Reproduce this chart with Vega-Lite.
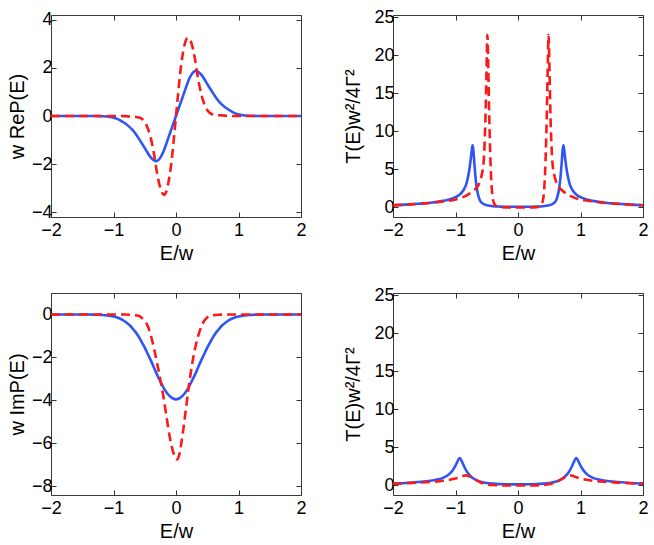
{
  "$schema": "https://vega.github.io/schema/vega-lite/v6.json",
  "padding": {"left": 6, "top": 7, "right": 5, "bottom": 5},
  "background": "white",
  "config": {
    "view": {"stroke": "#3a3a3a", "strokeWidth": 1},
    "font": "Liberation Sans",
    "axis": {
      "grid": false, "domain": false,
      "tickColor": "#333333", "tickSize": -5, "tickWidth": 1,
      "labelFont": "Liberation Sans", "labelFontSize": 18, "labelColor": "#000000", "labelPadding": 4,
      "labelFlush": false, "labelOverlap": false, "labelBound": false,
      "titleFont": "Liberation Sans", "titleFontSize": 20, "titleFontWeight": "normal", "titleColor": "#000000", "titlePadding": 2,
      "minExtent": 0
    },
    "axisX": {"labelPadding": 9, "titlePadding": 4}
  },
  "datasets": {
    "p1b": [{"E":-2,"v":0},{"E":-1.6,"v":0},{"E":-1.3,"v":0},{"E":-1.2,"v":-0.01},{"E":-1.1,"v":-0.02},{"E":-1.05,"v":-0.04},{"E":-1,"v":-0.07},{"E":-0.95,"v":-0.11},{"E":-0.9,"v":-0.17},{"E":-0.85,"v":-0.25},{"E":-0.8,"v":-0.33},{"E":-0.75,"v":-0.44},{"E":-0.7,"v":-0.57},{"E":-0.65,"v":-0.73},{"E":-0.6,"v":-0.92},{"E":-0.55,"v":-1.12},{"E":-0.5,"v":-1.33},{"E":-0.45,"v":-1.55},{"E":-0.4,"v":-1.73},{"E":-0.35,"v":-1.85},{"E":-0.32,"v":-1.88},{"E":-0.29,"v":-1.85},{"E":-0.25,"v":-1.73},{"E":-0.2,"v":-1.48},{"E":-0.15,"v":-1.12},{"E":-0.1,"v":-0.74},{"E":-0.05,"v":-0.37},{"E":0,"v":0},{"E":0.05,"v":0.37},{"E":0.1,"v":0.74},{"E":0.15,"v":1.12},{"E":0.2,"v":1.48},{"E":0.25,"v":1.73},{"E":0.29,"v":1.85},{"E":0.32,"v":1.88},{"E":0.35,"v":1.85},{"E":0.4,"v":1.73},{"E":0.45,"v":1.55},{"E":0.5,"v":1.33},{"E":0.55,"v":1.12},{"E":0.6,"v":0.92},{"E":0.65,"v":0.73},{"E":0.7,"v":0.57},{"E":0.75,"v":0.44},{"E":0.8,"v":0.33},{"E":0.85,"v":0.25},{"E":0.9,"v":0.17},{"E":0.95,"v":0.11},{"E":1,"v":0.07},{"E":1.05,"v":0.04},{"E":1.1,"v":0.02},{"E":1.2,"v":0.01},{"E":1.3,"v":0},{"E":1.6,"v":0},{"E":2,"v":0}],
    "p1r": [{"E":-2,"v":0},{"E":-1,"v":0},{"E":-0.85,"v":0},{"E":-0.8,"v":-0.01},{"E":-0.75,"v":-0.02},{"E":-0.7,"v":-0.03},{"E":-0.65,"v":-0.04},{"E":-0.6,"v":-0.06},{"E":-0.55,"v":-0.11},{"E":-0.5,"v":-0.25},{"E":-0.45,"v":-0.52},{"E":-0.4,"v":-0.95},{"E":-0.35,"v":-1.6},{"E":-0.3,"v":-2.42},{"E":-0.25,"v":-3.0},{"E":-0.21,"v":-3.24},{"E":-0.185,"v":-3.28},{"E":-0.16,"v":-3.18},{"E":-0.13,"v":-2.88},{"E":-0.1,"v":-2.45},{"E":-0.07,"v":-1.85},{"E":-0.04,"v":-1.1},{"E":0,"v":0},{"E":0.04,"v":1.1},{"E":0.07,"v":1.85},{"E":0.1,"v":2.45},{"E":0.13,"v":2.88},{"E":0.16,"v":3.16},{"E":0.19,"v":3.25},{"E":0.22,"v":3.2},{"E":0.25,"v":3.0},{"E":0.3,"v":2.42},{"E":0.35,"v":1.6},{"E":0.4,"v":0.95},{"E":0.45,"v":0.52},{"E":0.5,"v":0.25},{"E":0.55,"v":0.11},{"E":0.6,"v":0.06},{"E":0.65,"v":0.04},{"E":0.7,"v":0.03},{"E":0.75,"v":0.02},{"E":0.8,"v":0.01},{"E":0.85,"v":0},{"E":1,"v":0},{"E":2,"v":0}],
    "p2b": [{"E":-2,"v":0.3},{"E":-1.8,"v":0.38},{"E":-1.6,"v":0.49},{"E":-1.4,"v":0.63},{"E":-1.2,"v":0.87},{"E":-1.1,"v":1.05},{"E":-1,"v":1.35},{"E":-0.92,"v":1.8},{"E":-0.87,"v":2.3},{"E":-0.83,"v":3.0},{"E":-0.8,"v":4.0},{"E":-0.78,"v":4.9},{"E":-0.76,"v":6.1},{"E":-0.74,"v":7.5},{"E":-0.727,"v":8.17},{"E":-0.715,"v":7.6},{"E":-0.7,"v":6.0},{"E":-0.68,"v":4.0},{"E":-0.66,"v":2.6},{"E":-0.63,"v":1.4},{"E":-0.6,"v":0.8},{"E":-0.55,"v":0.45},{"E":-0.5,"v":0.3},{"E":-0.45,"v":0.22},{"E":-0.4,"v":0.17},{"E":-0.3,"v":0.12},{"E":-0.2,"v":0.1},{"E":-0.1,"v":0.1},{"E":0,"v":0.1},{"E":0.1,"v":0.1},{"E":0.2,"v":0.1},{"E":0.3,"v":0.12},{"E":0.4,"v":0.17},{"E":0.45,"v":0.22},{"E":0.5,"v":0.3},{"E":0.55,"v":0.45},{"E":0.6,"v":0.8},{"E":0.63,"v":1.4},{"E":0.66,"v":2.6},{"E":0.68,"v":4.0},{"E":0.7,"v":6.0},{"E":0.715,"v":7.6},{"E":0.727,"v":8.17},{"E":0.74,"v":7.5},{"E":0.76,"v":6.1},{"E":0.78,"v":4.9},{"E":0.8,"v":4.0},{"E":0.83,"v":3.0},{"E":0.87,"v":2.3},{"E":0.92,"v":1.8},{"E":1,"v":1.35},{"E":1.1,"v":1.05},{"E":1.2,"v":0.87},{"E":1.4,"v":0.63},{"E":1.6,"v":0.49},{"E":1.8,"v":0.38},{"E":2,"v":0.3}],
    "p2r": [{"E":-2,"v":0.3},{"E":-1.8,"v":0.37},{"E":-1.6,"v":0.47},{"E":-1.4,"v":0.6},{"E":-1.2,"v":0.8},{"E":-1,"v":1.05},{"E":-0.9,"v":1.3},{"E":-0.8,"v":1.7},{"E":-0.7,"v":2.3},{"E":-0.63,"v":3.0},{"E":-0.58,"v":4.3},{"E":-0.55,"v":6.0},{"E":-0.52,"v":12.0},{"E":-0.505,"v":17.5},{"E":-0.49,"v":22.7},{"E":-0.475,"v":18.0},{"E":-0.46,"v":12.0},{"E":-0.44,"v":6.0},{"E":-0.42,"v":2.5},{"E":-0.4,"v":1.0},{"E":-0.37,"v":0.35},{"E":-0.33,"v":0.1},{"E":-0.3,"v":0.05},{"E":-0.2,"v":0.01},{"E":0,"v":0},{"E":0.2,"v":0.01},{"E":0.3,"v":0.05},{"E":0.33,"v":0.1},{"E":0.37,"v":0.35},{"E":0.4,"v":1.0},{"E":0.42,"v":2.5},{"E":0.44,"v":6.0},{"E":0.46,"v":12.0},{"E":0.475,"v":18.0},{"E":0.49,"v":22.7},{"E":0.505,"v":17.5},{"E":0.52,"v":12.0},{"E":0.55,"v":6.0},{"E":0.58,"v":4.3},{"E":0.63,"v":3.0},{"E":0.7,"v":2.3},{"E":0.8,"v":1.7},{"E":0.9,"v":1.3},{"E":1,"v":1.05},{"E":1.2,"v":0.8},{"E":1.4,"v":0.6},{"E":1.6,"v":0.47},{"E":1.8,"v":0.37},{"E":2,"v":0.3}],
    "p3b": [{"E":-2,"v":0},{"E":-1.6,"v":0},{"E":-1.4,"v":0},{"E":-1.3,"v":-0.01},{"E":-1.2,"v":-0.02},{"E":-1.1,"v":-0.04},{"E":-1,"v":-0.09},{"E":-0.95,"v":-0.13},{"E":-0.9,"v":-0.19},{"E":-0.85,"v":-0.26},{"E":-0.8,"v":-0.36},{"E":-0.75,"v":-0.48},{"E":-0.7,"v":-0.63},{"E":-0.65,"v":-0.81},{"E":-0.6,"v":-1.02},{"E":-0.55,"v":-1.27},{"E":-0.5,"v":-1.54},{"E":-0.45,"v":-1.85},{"E":-0.4,"v":-2.16},{"E":-0.35,"v":-2.49},{"E":-0.3,"v":-2.82},{"E":-0.25,"v":-3.12},{"E":-0.2,"v":-3.4},{"E":-0.15,"v":-3.63},{"E":-0.1,"v":-3.8},{"E":-0.05,"v":-3.91},{"E":0,"v":-3.95},{"E":0.05,"v":-3.91},{"E":0.1,"v":-3.8},{"E":0.15,"v":-3.63},{"E":0.2,"v":-3.4},{"E":0.25,"v":-3.12},{"E":0.3,"v":-2.82},{"E":0.35,"v":-2.49},{"E":0.4,"v":-2.16},{"E":0.45,"v":-1.85},{"E":0.5,"v":-1.54},{"E":0.55,"v":-1.27},{"E":0.6,"v":-1.02},{"E":0.65,"v":-0.81},{"E":0.7,"v":-0.63},{"E":0.75,"v":-0.48},{"E":0.8,"v":-0.36},{"E":0.85,"v":-0.26},{"E":0.9,"v":-0.19},{"E":0.95,"v":-0.13},{"E":1,"v":-0.09},{"E":1.1,"v":-0.04},{"E":1.2,"v":-0.02},{"E":1.3,"v":-0.01},{"E":1.4,"v":0},{"E":1.6,"v":0},{"E":2,"v":0}],
    "p3r": [{"E":-2,"v":0},{"E":-1,"v":0},{"E":-0.8,"v":0},{"E":-0.7,"v":-0.02},{"E":-0.6,"v":-0.06},{"E":-0.55,"v":-0.15},{"E":-0.5,"v":-0.3},{"E":-0.45,"v":-0.55},{"E":-0.4,"v":-1.0},{"E":-0.35,"v":-1.6},{"E":-0.3,"v":-2.3},{"E":-0.25,"v":-3.05},{"E":-0.2,"v":-3.85},{"E":-0.15,"v":-4.8},{"E":-0.1,"v":-5.7},{"E":-0.05,"v":-6.35},{"E":0,"v":-6.72},{"E":0.02,"v":-6.75},{"E":0.05,"v":-6.55},{"E":0.1,"v":-5.7},{"E":0.15,"v":-4.6},{"E":0.2,"v":-3.45},{"E":0.25,"v":-2.45},{"E":0.3,"v":-1.65},{"E":0.35,"v":-1.05},{"E":0.4,"v":-0.6},{"E":0.45,"v":-0.3},{"E":0.5,"v":-0.14},{"E":0.55,"v":-0.06},{"E":0.6,"v":-0.03},{"E":0.7,"v":-0.01},{"E":0.8,"v":0},{"E":1,"v":0},{"E":2,"v":0}],
    "p4b": [{"E":-2,"v":0.26},{"E":-1.8,"v":0.33},{"E":-1.6,"v":0.45},{"E":-1.4,"v":0.62},{"E":-1.3,"v":0.78},{"E":-1.2,"v":1.0},{"E":-1.1,"v":1.5},{"E":-1.05,"v":1.95},{"E":-1,"v":2.6},{"E":-0.96,"v":3.3},{"E":-0.93,"v":3.62},{"E":-0.9,"v":3.2},{"E":-0.85,"v":2.3},{"E":-0.8,"v":1.6},{"E":-0.75,"v":1.15},{"E":-0.7,"v":0.85},{"E":-0.6,"v":0.5},{"E":-0.5,"v":0.33},{"E":-0.4,"v":0.24},{"E":-0.2,"v":0.16},{"E":0,"v":0.15},{"E":0.2,"v":0.16},{"E":0.4,"v":0.24},{"E":0.5,"v":0.33},{"E":0.6,"v":0.5},{"E":0.7,"v":0.85},{"E":0.75,"v":1.15},{"E":0.8,"v":1.6},{"E":0.85,"v":2.3},{"E":0.9,"v":3.2},{"E":0.93,"v":3.62},{"E":0.96,"v":3.3},{"E":1,"v":2.6},{"E":1.05,"v":1.95},{"E":1.1,"v":1.5},{"E":1.2,"v":1.0},{"E":1.3,"v":0.78},{"E":1.4,"v":0.62},{"E":1.6,"v":0.45},{"E":1.8,"v":0.33},{"E":2,"v":0.26}],
    "p4r": [{"E":-2,"v":0.25},{"E":-1.8,"v":0.3},{"E":-1.6,"v":0.37},{"E":-1.4,"v":0.47},{"E":-1.2,"v":0.62},{"E":-1.1,"v":0.75},{"E":-1,"v":0.92},{"E":-0.92,"v":1.12},{"E":-0.88,"v":1.25},{"E":-0.84,"v":1.33},{"E":-0.8,"v":1.28},{"E":-0.75,"v":1.1},{"E":-0.7,"v":0.85},{"E":-0.65,"v":0.6},{"E":-0.6,"v":0.4},{"E":-0.55,"v":0.25},{"E":-0.5,"v":0.15},{"E":-0.4,"v":0.06},{"E":-0.3,"v":0.02},{"E":0,"v":0},{"E":0.3,"v":0.02},{"E":0.4,"v":0.06},{"E":0.5,"v":0.15},{"E":0.55,"v":0.25},{"E":0.6,"v":0.4},{"E":0.65,"v":0.6},{"E":0.7,"v":0.85},{"E":0.75,"v":1.1},{"E":0.8,"v":1.28},{"E":0.84,"v":1.33},{"E":0.88,"v":1.25},{"E":0.92,"v":1.12},{"E":1,"v":0.92},{"E":1.1,"v":0.75},{"E":1.2,"v":0.62},{"E":1.4,"v":0.47},{"E":1.6,"v":0.37},{"E":1.8,"v":0.3},{"E":2,"v":0.25}]
  },
  "columns": 2,
  "spacing": {"row": 21, "column": 36},
  "concat": [
    {
      "width": 250, "height": 202,
      "layer": [
        {"data": {"name": "p1b"}, "mark": {"type": "line", "color": "#2f55f7", "strokeWidth": 2.6, "interpolate": "monotone", "clip": true},
         "encoding": {
           "x": {"field": "E", "type": "quantitative", "scale": {"domain": [-2, 2], "nice": false}, "axis": {"values": [-2, -1, 0, 1, 2], "title": "E/w"}},
           "y": {"field": "v", "type": "quantitative", "scale": {"domain": [-4.2, 4.2], "nice": false, "zero": false}, "axis": {"values": [-4, -2, 0, 2, 4], "title": "w ReP(E)", "titlePadding": 4}}}},
        {"data": {"name": "p1r"}, "mark": {"type": "line", "color": "#fb1a1a", "strokeWidth": 2.6, "strokeDash": [9, 5], "interpolate": "monotone", "clip": true},
         "encoding": {"x": {"field": "E", "type": "quantitative", "axis": null}, "y": {"field": "v", "type": "quantitative", "axis": null}}},
        {"data": {"name": "p1b"}, "mark": {"type": "line", "opacity": 0},
         "encoding": {
           "x": {"field": "E", "type": "quantitative", "axis": {"orient": "top", "values": [-2, -1, 0, 1, 2], "labels": false, "title": null}},
           "y": {"field": "v", "type": "quantitative", "axis": {"orient": "right", "values": [-4, -2, 0, 2, 4], "labels": false, "title": null}}}}
      ],
      "resolve": {"axis": {"x": "independent", "y": "independent"}}
    },
    {
      "width": 250, "height": 202,
      "layer": [
        {"data": {"name": "p2b"}, "mark": {"type": "line", "color": "#2f55f7", "strokeWidth": 2.6, "interpolate": "monotone", "clip": true},
         "encoding": {
           "x": {"field": "E", "type": "quantitative", "scale": {"domain": [-2, 2], "nice": false}, "axis": {"values": [-2, -1, 0, 1, 2], "title": "E/w"}},
           "y": {"field": "v", "type": "quantitative", "scale": {"domain": [-1.25, 25.3], "nice": false, "zero": false}, "axis": {"values": [0, 5, 10, 15, 20, 25], "title": "T(E)w²/4Γ²", "titlePadding": 10}}}},
        {"data": {"name": "p2r"}, "mark": {"type": "line", "color": "#fb1a1a", "strokeWidth": 2.6, "strokeDash": [9, 5], "interpolate": "monotone", "clip": true},
         "encoding": {"x": {"field": "E", "type": "quantitative", "axis": null}, "y": {"field": "v", "type": "quantitative", "axis": null}}},
        {"data": {"name": "p2b"}, "mark": {"type": "line", "opacity": 0},
         "encoding": {
           "x": {"field": "E", "type": "quantitative", "axis": {"orient": "top", "values": [-2, -1, 0, 1, 2], "labels": false, "title": null}},
           "y": {"field": "v", "type": "quantitative", "axis": {"orient": "right", "values": [0, 5, 10, 15, 20, 25], "labels": false, "title": null}}}}
      ],
      "resolve": {"axis": {"x": "independent", "y": "independent"}}
    },
    {
      "width": 250, "height": 202,
      "layer": [
        {"data": {"name": "p3b"}, "mark": {"type": "line", "color": "#2f55f7", "strokeWidth": 2.6, "interpolate": "monotone", "clip": true},
         "encoding": {
           "x": {"field": "E", "type": "quantitative", "scale": {"domain": [-2, 2], "nice": false}, "axis": {"values": [-2, -1, 0, 1, 2], "title": "E/w"}},
           "y": {"field": "v", "type": "quantitative", "scale": {"domain": [-8.4, 1], "nice": false, "zero": false}, "axis": {"values": [-8, -6, -4, -2, 0], "title": "w ImP(E)", "titlePadding": 4}}}},
        {"data": {"name": "p3r"}, "mark": {"type": "line", "color": "#fb1a1a", "strokeWidth": 2.6, "strokeDash": [9, 5], "interpolate": "monotone", "clip": true},
         "encoding": {"x": {"field": "E", "type": "quantitative", "axis": null}, "y": {"field": "v", "type": "quantitative", "axis": null}}},
        {"data": {"name": "p3b"}, "mark": {"type": "line", "opacity": 0},
         "encoding": {
           "x": {"field": "E", "type": "quantitative", "axis": {"orient": "top", "values": [-2, -1, 0, 1, 2], "labels": false, "title": null}},
           "y": {"field": "v", "type": "quantitative", "axis": {"orient": "right", "values": [-8, -6, -4, -2, 0], "labels": false, "title": null}}}}
      ],
      "resolve": {"axis": {"x": "independent", "y": "independent"}}
    },
    {
      "width": 250, "height": 202,
      "layer": [
        {"data": {"name": "p4b"}, "mark": {"type": "line", "color": "#2f55f7", "strokeWidth": 2.6, "interpolate": "monotone", "clip": true},
         "encoding": {
           "x": {"field": "E", "type": "quantitative", "scale": {"domain": [-2, 2], "nice": false}, "axis": {"values": [-2, -1, 0, 1, 2], "title": "E/w"}},
           "y": {"field": "v", "type": "quantitative", "scale": {"domain": [-1.25, 25.3], "nice": false, "zero": false}, "axis": {"values": [0, 5, 10, 15, 20, 25], "title": "T(E)w²/4Γ²", "titlePadding": 10}}}},
        {"data": {"name": "p4r"}, "mark": {"type": "line", "color": "#fb1a1a", "strokeWidth": 2.6, "strokeDash": [9, 5], "interpolate": "monotone", "clip": true},
         "encoding": {"x": {"field": "E", "type": "quantitative", "axis": null}, "y": {"field": "v", "type": "quantitative", "axis": null}}},
        {"data": {"name": "p4b"}, "mark": {"type": "line", "opacity": 0},
         "encoding": {
           "x": {"field": "E", "type": "quantitative", "axis": {"orient": "top", "values": [-2, -1, 0, 1, 2], "labels": false, "title": null}},
           "y": {"field": "v", "type": "quantitative", "axis": {"orient": "right", "values": [0, 5, 10, 15, 20, 25], "labels": false, "title": null}}}}
      ],
      "resolve": {"axis": {"x": "independent", "y": "independent"}}
    }
  ]
}
